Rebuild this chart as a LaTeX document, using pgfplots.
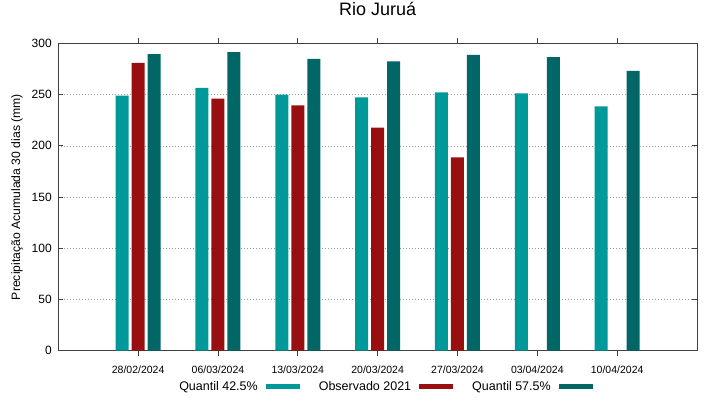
\documentclass[border=0pt]{standalone}
\usepackage{pgfplots}
\pgfplotsset{compat=1.18}
\usepackage{fontspec}
\setmainfont{Liberation Sans}
\definecolor{cA}{HTML}{009999}
\definecolor{cB}{HTML}{990F0F}
\definecolor{cC}{HTML}{006666}
\definecolor{axc}{HTML}{404040}
\begin{document}
\begin{tikzpicture}
\path[use as bounding box] (-58.3pt,-48.3pt) rectangle (660.7pt,350.7pt);
\begin{axis}[
  at={(0pt,0pt)}, anchor=south west,
  scale only axis, width=638.7pt, height=307.4pt,
  xmin=-1, xmax=7, ymin=0, ymax=300,
  xtick={0,1,2,3,4,5,6},
  xticklabels={28/02/2024,06/03/2024,13/03/2024,20/03/2024,27/03/2024,03/04/2024,10/04/2024},
  ytick={0,50,100,150,200,250,300},
  /pgf/number format/assume math mode=true,
  tick align=inside, major tick length=5pt,
  xtick pos=both, ytick pos=both,
  tick style={axc, line width=0.8pt},
  axis line style={axc, line width=0.9pt},
  ymajorgrids, grid style={gray!80, line width=0.5pt, dash pattern=on 1pt off 2pt},
  yticklabel style={font=\fontsize{12}{14}\selectfont, xshift=-3pt},
  xticklabel style={font=\fontsize{10.5}{12}\selectfont, yshift=-7pt},
  ylabel={Precipitação Acumulada 30 dias (mm)},
  ylabel style={font=\fontsize{12.2}{14}\selectfont, at={(axis description cs:-0.0647,0.5)}, anchor=center},
  title={Rio Juruá},
  title style={font=\fontsize{18}{21}\selectfont, at={(axis description cs:0.5,1)}, anchor=base, yshift=21.3pt},
  ybar, bar width=13pt,
  legend columns=3,
  legend plot pos=right,
  legend style={draw=none, fill=none, at={(axis description cs:0.5115,-0.118)}, anchor=center,
    font=\fontsize{12.5}{14}\selectfont,
    /tikz/every even column/.append style={column sep=17pt},
    /tikz/every odd column/.append style={column sep=6pt}},
  legend image code/.code={\fill[#1] (0pt,-2.5pt) rectangle (34pt,2.5pt);},
]
\addplot[fill=cA, draw=none, bar shift=-16pt] coordinates {(0,248.9) (1,256.4) (2,249.9) (3,247.3) (4,252.2) (5,251.2) (6,238.5)};
\addlegendentry{Quantil 42.5\%}
\addplot[fill=cB, draw=none, bar shift=0pt] coordinates {(0,280.8) (1,246.0) (2,239.5) (3,217.6) (4,188.7)};
\addlegendentry{Observado 2021}
\addplot[fill=cC, draw=none, bar shift=16pt] coordinates {(0,289.5) (1,291.5) (2,284.7) (3,282.4) (4,288.6) (5,286.6) (6,273.0)};
\addlegendentry{Quantil 57.5\%}
\end{axis}
\end{tikzpicture}
\end{document}
